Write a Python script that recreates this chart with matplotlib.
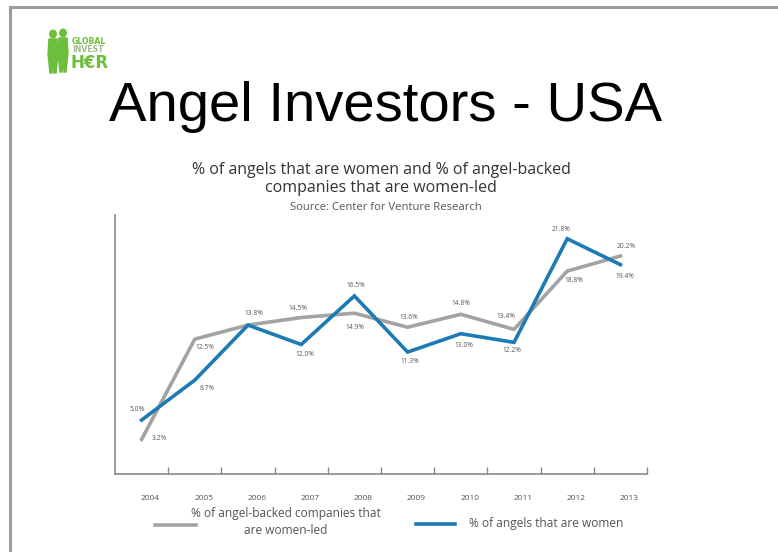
import numpy as np
import matplotlib
matplotlib.use("Agg")
import matplotlib.pyplot as plt
from matplotlib.lines import Line2D
from matplotlib.patches import Ellipse, Polygon
from matplotlib.transforms import ScaledTranslation

# data
years = ["2004", "2005", "2006", "2007", "2008", "2009", "2010", "2011", "2012", "2013"]
companies = [3.2, 12.5, 13.8, 14.5, 14.9, 13.6, 14.8, 13.4, 18.8, 20.2]   # % of angel-backed companies women-led
angels = [5.0, 8.7, 13.8, 12.0, 16.5, 11.3, 13.0, 12.2, 21.8, 19.4]       # % of angels that are women
companies_lbl = ["3.2%", "12.5%", None, "14.5%", "14.9%", "13.6%", "14.8%", "13.4%", "18.8%", "20.2%"]
angels_lbl = ["5.0%", "8.7%", "13.8%", "12.0%", "16.5%", "11.3%", "13.0%", "12.2%", "21.8%", "19.4%"]

# label offsets in pixels (dx, dy)
companies_off = [(18, 1), (10, -8), (0, 0), (-3, 9), (0, -14), (1, 10), (0, 11), (-8, 13), (7, -9), (6, 10)]
angels_off = [(-4, 11), (12, -8), (6, 12), (4, -10), (1, 10), (2, -9), (3, -12), (-2, -8), (-6, 9), (4, -12)]

W, H = 778, 552
GREY = "#a3a3a3"
BLUE = "#1c7bb5"
TXT = "#555555"
FONT = "Open Sans"


def px(x, y):
    # pixel coords (top-left origin) -> figure fraction
    return x / W, 1 - y / H


fig = plt.figure(figsize=(W / 100, H / 100), dpi=100)

# slide border
fig.add_artist(Line2D([10 / W, 1], [1 - 7 / H, 1 - 7 / H], color="#9c9c9c", lw=2.2))
fig.add_artist(Line2D([10 / W, 10 / W], [0, 1 - 7 / H], color="#9c9c9c", lw=2.2))

# logo: two rough silhouettes + text
green = "#6cbf3c"
for cx, top in [(53, 30), (63, 29)]:
    fig.add_artist(Ellipse(px(cx, top + 4), 6.5 / W, 7.5 / H, color=green,
                           transform=fig.transFigure))
    body = [(cx - 4, top + 9), (cx + 4, top + 9), (cx + 5, top + 24), (cx + 3, top + 43),
            (cx + 1, top + 43), (cx, top + 30), (cx - 1, top + 43), (cx - 3, top + 43),
            (cx - 5, top + 24)]
    fig.add_artist(Polygon([px(a, b) for a, b in body], closed=True, color=green,
                           transform=fig.transFigure))
fig.text(*px(72, 42), "GLOBAL", fontsize=5.6, fontweight="bold", color=green,
         family="DejaVu Sans", va="center", ha="left")
fig.text(*px(72, 50), "INVEST", fontsize=5.6, fontweight="bold", color="#9fb98f",
         family="DejaVu Sans", va="center", ha="left")
fig.text(*px(70, 63), "H€R", fontsize=12, fontweight="bold", color=green,
         family="DejaVu Sans", va="center", ha="left")

# titles
fig.text(*px(386, 121), "Angel Investors - USA", fontsize=40.5, color="black",
         family="Liberation Sans", ha="center", va="baseline")
fig.text(*px(381, 170), "% of angels that are women and % of angel-backed", fontsize=11.5,
         color="#333333", family=FONT, ha="center", va="center")
fig.text(*px(381, 188), "companies that are women-led", fontsize=11.5,
         color="#333333", family=FONT, ha="center", va="center")
fig.text(*px(386, 207), "Source: Center for Venture Research", fontsize=8.1,
         color=TXT, family=FONT, ha="center", va="center")

# chart area
ax = fig.add_axes([115 / W, 1 - 474 / H, 532 / W, 259 / H])
x = np.arange(len(years))
ax.plot(x, companies, color=GREY, lw=2.6, solid_joinstyle="miter")
ax.plot(x, angels, color=BLUE, lw=2.6, solid_joinstyle="miter")

for xs, vals, lbls, offs in [(x, companies, companies_lbl, companies_off),
                             (x, angels, angels_lbl, angels_off)]:
    for xi, v, lb, (dx, dy) in zip(xs, vals, lbls, offs):
        if lb is None:
            continue
        ax.annotate(lb, (xi, v), xytext=(dx, dy), textcoords="offset pixels",
                    ha="center", va="center", fontsize=4.8, color=TXT, family=FONT)

ax.set_xlim(-0.5, 9.5)
ax.set_ylim(0, 24)
for s in ["top", "right"]:
    ax.spines[s].set_visible(False)
for s in ["left", "bottom"]:
    ax.spines[s].set_color("#8a8a8a")
    ax.spines[s].set_linewidth(1.2)
ax.set_yticks([])
ax.set_xticks(x)
ax.set_xticklabels(years, fontsize=6, color=TXT, family=FONT)
ax.tick_params(axis="x", which="major", length=0, pad=15)
ax.set_xticks(np.arange(0.5, 10, 1.0), minor=True)
ax.tick_params(axis="x", which="minor", direction="in", length=5, width=1, color="#8a8a8a")
shift = ScaledTranslation(9 / 100, 0, fig.dpi_scale_trans)
for lab in ax.get_xticklabels():
    lab.set_transform(lab.get_transform() + shift)

# legend
fig.add_artist(Line2D([155 / W, 196 / W], [1 - 525 / H] * 2, color=GREY, lw=2.6))
fig.text(*px(286, 514), "% of angel-backed companies that", fontsize=8.6, color=TXT,
         family=FONT, ha="center", va="center")
fig.text(*px(286, 530), "are women-led", fontsize=8.6, color=TXT,
         family=FONT, ha="center", va="center")
fig.add_artist(Line2D([416 / W, 455 / W], [1 - 524 / H] * 2, color=BLUE, lw=2.6))
fig.text(*px(469, 524), "% of angels that are women", fontsize=8.6, color=TXT,
         family=FONT, ha="left", va="center")

fig.savefig("out.png", dpi=100)
